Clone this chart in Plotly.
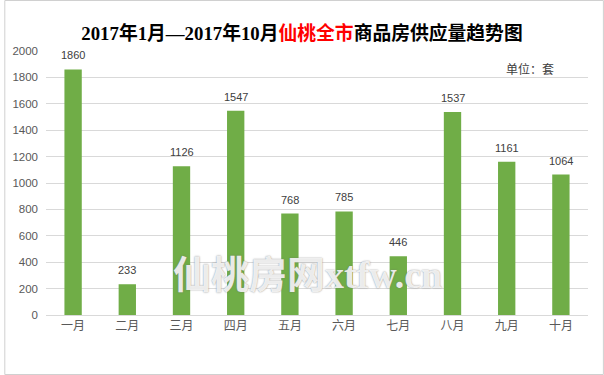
import plotly.graph_objects as go

months = ["一月", "二月", "三月", "四月", "五月", "六月", "七月", "八月", "九月", "十月"]
supply = [1860, 233, 1126, 1547, 768, 785, 446, 1537, 1161, 1064]
y_ticks = [0, 200, 400, 600, 800, 1000, 1200, 1400, 1600, 1800, 2000]

W, H = 604, 375
ML, MR, MT, MB = 42, 16, 51, 60
pw, ph = W - ML - MR, H - MT - MB

def px_to_paper_x(px):
    return (px - ML) / pw

def px_to_paper_y(py):
    return (H - MB - py) / ph

fig = go.Figure()
fig.add_trace(go.Bar(
    x=months, y=supply,
    marker=dict(color="#70AD47", line=dict(width=0)),
    hoverinfo="skip",
))

for m, v in zip(months, supply):
    fig.add_annotation(
        x=m, y=v, xref="x", yref="y", text=str(v), showarrow=False,
        yshift=14, yanchor="middle", xanchor="center",
        font=dict(size=11, color="#404040", family="Liberation Sans, Noto Sans CJK SC"),
    )

fig.update_layout(
    width=W, height=H,
    margin=dict(l=ML, r=MR, t=MT, b=MB),
    paper_bgcolor="white", plot_bgcolor="white",
    bargap=0.68,
    showlegend=False,
    font=dict(family="Liberation Sans, Noto Sans CJK SC", color="#595959"),
    xaxis=dict(showgrid=False, showline=True, linecolor="#d9d9d9", linewidth=1,
               ticks="", tickfont=dict(size=12, color="#595959"), fixedrange=True),
    yaxis=dict(range=[0, 2000], tickvals=y_ticks, showgrid=True, gridcolor="#d9d9d9",
               gridwidth=1, zeroline=False, showline=False, ticks="",
               tickfont=dict(size=11.5, color="#595959"), ticklabelstandoff=7, fixedrange=True),
    title=dict(
        text="2017年1月—2017年10月<span style='color:#ff0000'>仙桃全市</span>商品房供应量趋势图",
        x=0.5, xanchor="center", y=1 - 33 / H, yanchor="middle",
        font=dict(size=18.8, color="#000000", family="Liberation Serif, Noto Sans CJK SC", weight="bold"),
    ),
)

fig.add_annotation(
    text="单位：套", xref="paper", yref="paper",
    x=px_to_paper_x(530), y=px_to_paper_y(68), xanchor="center", yanchor="middle",
    showarrow=False, font=dict(size=12, color="#404040", family="Noto Sans CJK SC"),
)

fig.add_annotation(
    text="仙桃房网<span style='font-family:Liberation Serif'>xtfw.cn</span>", xref="paper", yref="paper",
    x=px_to_paper_x(305), y=px_to_paper_y(271), xanchor="center", yanchor="middle",
    showarrow=False,
    font=dict(size=38, color="rgba(255,255,255,0.85)", family="Noto Sans CJK SC", weight="bold",
              shadow="0px 0px 1.5px rgba(110,110,110,1)"),
)

fig.add_shape(
    type="rect", xref="paper", yref="paper",
    x0=px_to_paper_x(0.5), x1=px_to_paper_x(W - 0.5),
    y0=px_to_paper_y(0.5), y1=px_to_paper_y(H - 0.5),
    line=dict(color="#d0d0d0", width=1), fillcolor="rgba(0,0,0,0)", layer="above",
)

fig.write_html("out.html", config={"displayModeBar": False, "staticPlot": True},
               post_script="document.body.style.margin='0';document.body.style.overflow='hidden';")
